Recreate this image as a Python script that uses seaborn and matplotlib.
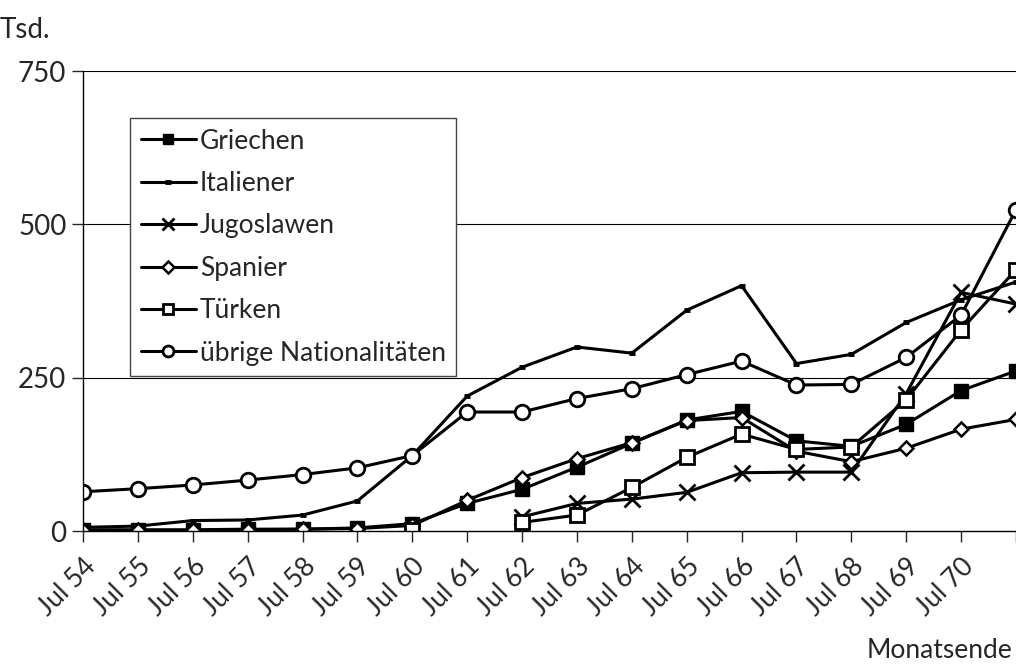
import numpy as np
import pandas as pd
import seaborn as sns
import matplotlib.pyplot as plt

months = ['Jul 54', 'Jul 55', 'Jul 56', 'Jul 57', 'Jul 58', 'Jul 59', 'Jul 60', 'Jul 61',
          'Jul 62', 'Jul 63', 'Jul 64', 'Jul 65', 'Jul 66', 'Jul 67', 'Jul 68', 'Jul 69',
          'Jul 70', '']
nan = np.nan
griechen = [2, 2, 2, 3, 3, 5, 12, 45, 68, 104, 143, 181, 195, 147, 138, 174, 229, 261]
italiener = [6, 8, 17, 18, 26, 49, 123, 220, 267, 300, 290, 360, 400, 273, 288, 340, 377, 406]
jugoslawen = [nan, nan, nan, nan, nan, nan, nan, nan, 23, 45, 52, 63, 95, 96, 96, 224, 389, 370]
spanier = [1, 1, 1, 2, 3, 4, 9, 50, 87, 118, 144, 180, 185, 130, 113, 135, 166, 182]
tuerken = [nan, nan, nan, nan, nan, nan, 2, nan, 14, 26, 71, 120, 158, 133, 137, 214, 328, 426]
uebrige = [64, 69, 75, 83, 92, 103, 123, 194, 194, 216, 232, 255, 277, 238, 239, 283, 352, 524]

series = {
    'Griechen': griechen,
    'Italiener': italiener,
    'Jugoslawen': jugoslawen,
    'Spanier': spanier,
    'Türken': tuerken,
    'übrige Nationalitäten': uebrige,
}
styles = {
    'Griechen': dict(marker='s', markersize=9.5, markerfacecolor='black', markeredgewidth=1),
    'Italiener': dict(marker='_', markersize=5, markeredgewidth=3.5),
    'Jugoslawen': dict(marker='x', markersize=11, markeredgewidth=2),
    'Spanier': dict(marker='D', markersize=7.5, markerfacecolor='white', markeredgewidth=1.8),
    'Türken': dict(marker='s', markersize=9.5, markerfacecolor='white', markeredgewidth=2),
    'übrige Nationalitäten': dict(marker='o', markersize=10.5, markerfacecolor='white', markeredgewidth=2),
}

sns.set_style('white')
plt.rcParams['font.family'] = ['Lato', 'DejaVu Sans']

fig = plt.figure(figsize=(10.16, 6.64), dpi=100)
ax = fig.add_axes([83 / 1016, 1 - 531 / 664, 1 - 83 / 1016, (531 - 71) / 664])

x = np.arange(len(months))
handles = {}
for name, vals in series.items():
    df = pd.DataFrame({'x': x, 'y': vals})
    # split into contiguous pieces so gaps stay gaps
    seg = df['y'].isna().cumsum()
    for _, part in df[df['y'].notna()].groupby(seg[df['y'].notna()]):
        sns.lineplot(data=part, x='x', y='y', ax=ax, color='black', linewidth=2.2,
                     markeredgecolor='black', legend=False, **styles[name])
        handles[name] = ax.lines[-1]

ax.set_xlim(0, len(months) - 1)
ax.set_ylim(0, 750)
ax.set_yticks([0, 250, 500, 750])
ax.set_xticks(x)
ax.set_xticklabels(months, rotation=45, ha='right', rotation_mode='anchor', fontsize=19)
ax.tick_params(axis='y', labelsize=20, length=8, width=1, direction='out', left=True, pad=4)
ax.tick_params(axis='x', length=8, width=1, direction='out', bottom=True, pad=8)
ax.set_xlabel('')
ax.set_ylabel('')
ax.grid(False)
for v in [250, 500, 750]:
    ax.axhline(v, color='black', linewidth=0.8, zorder=0)
for s in ['top', 'right']:
    ax.spines[s].set_visible(False)
for s in ['left', 'bottom']:
    ax.spines[s].set_color('black')
    ax.spines[s].set_linewidth(1)

leg = ax.legend(list(handles.values()), list(handles.keys()), loc='upper left',
                bbox_to_anchor=((130 - 83) / 933, (531 - 118) / 460), borderaxespad=0,
                fontsize=19, frameon=True, fancybox=False, edgecolor='#444444',
                framealpha=1, handlelength=2.1, handletextpad=0.15, labelspacing=0.66,
                borderpad=0.4, markerscale=0.75)
leg.get_frame().set_linewidth(1)

fig.text(0.0, 1 - 30 / 664, 'Tsd.', fontsize=20, va='center', ha='left')
fig.text(1012 / 1016, 1 - 650 / 664, 'Monatsende', fontsize=19, va='center', ha='right')

fig.savefig('out.png', dpi=100)
